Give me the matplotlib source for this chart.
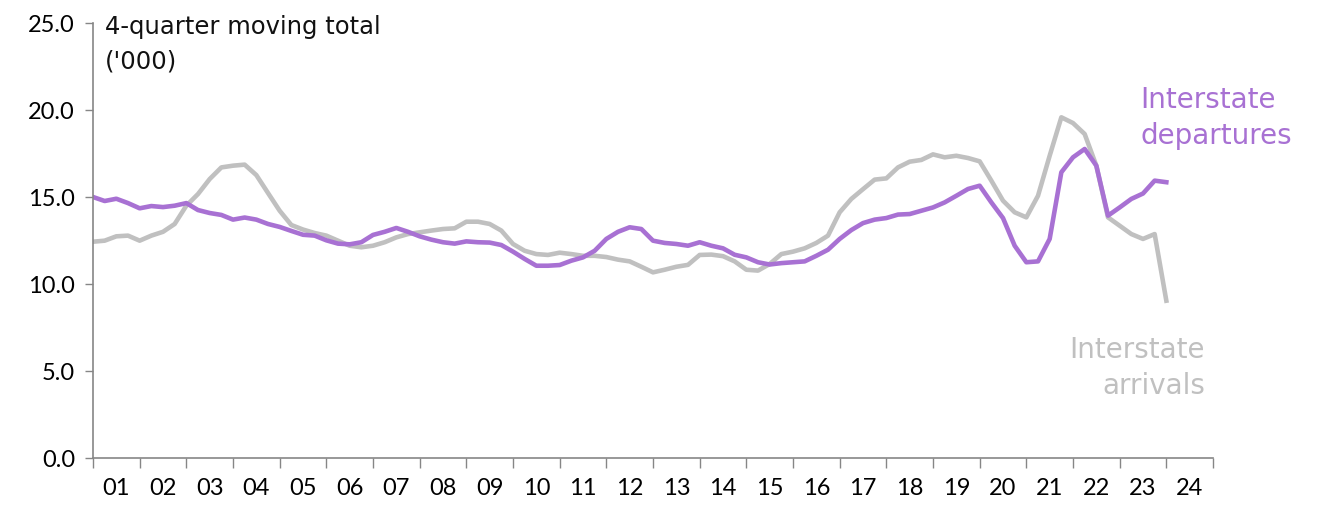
import matplotlib
matplotlib.use("Agg")
import matplotlib.pyplot as plt
import numpy as np

plt.rcParams['font.family'] = ['Lato', 'DejaVu Sans']

year_labels = [f"{y:02d}" for y in range(1, 25)]

departures = [
    15.0, 14.77, 14.9, 14.65, 14.35, 14.48, 14.42, 14.5, 14.65, 14.25,
    14.08, 13.97, 13.7, 13.82, 13.7, 13.45, 13.28, 13.05, 12.83, 12.78,
    12.51, 12.32, 12.28, 12.4, 12.82, 13.0, 13.22, 13.0, 12.74, 12.55,
    12.4, 12.32, 12.45, 12.4, 12.38, 12.24, 11.86, 11.44, 11.05, 11.05,
    11.09, 11.34, 11.53, 11.91, 12.59, 13.0, 13.26, 13.16, 12.49, 12.36,
    12.3, 12.2, 12.4, 12.2, 12.05, 11.68, 11.53, 11.25, 11.12, 11.2,
    11.25, 11.3, 11.62, 11.97, 12.59, 13.1, 13.5, 13.7, 13.79, 13.99,
    14.02, 14.21, 14.4, 14.69, 15.07, 15.46, 15.65, 14.69, 13.79, 12.2,
    11.25, 11.3, 12.59, 16.42, 17.28, 17.76, 16.8, 13.93, 14.4, 14.89,
    15.2, 15.94, 15.85,
]

arrivals = [
    12.43, 12.49, 12.74, 12.78, 12.49, 12.78, 13.0, 13.45, 14.5, 15.17,
    16.03, 16.7, 16.8, 16.86, 16.26, 15.23, 14.21, 13.39, 13.13, 12.93,
    12.78, 12.49, 12.2, 12.11, 12.2, 12.4, 12.68, 12.87, 12.97, 13.07,
    13.16, 13.2, 13.58, 13.58, 13.45, 13.07, 12.3, 11.91, 11.72, 11.67,
    11.8, 11.72, 11.62, 11.62, 11.55, 11.4, 11.3, 10.99, 10.67, 10.82,
    10.99, 11.1, 11.67, 11.69, 11.6, 11.3, 10.82, 10.77, 11.15, 11.72,
    11.86, 12.05, 12.36, 12.78, 14.12, 14.89, 15.45, 16.0, 16.07, 16.7,
    17.03, 17.13, 17.45, 17.28, 17.37, 17.24, 17.05, 15.94, 14.79, 14.12,
    13.83, 15.07, 17.37, 19.58, 19.25, 18.62, 16.8, 13.83, 13.35, 12.87,
    12.59, 12.87, 9.04,
]

purple = '#A871D3'
grey = '#C0C0C0'
axis_col = '#868686'
wide = ['DejaVu Sans']

fig = plt.figure(figsize=(13.31, 5.06), dpi=100)
ax = fig.add_axes([93/1331, 47/506, 1120/1331, 435/506])

q = np.arange(len(departures))
ax.plot(q, arrivals, color=grey, lw=3.3, solid_joinstyle='round')
ax.plot(q, departures, color=purple, lw=3.3, solid_joinstyle='round')

ax.set_xlim(0, 96)
ax.set_ylim(0, 25)
ax.set_yticks(np.arange(0, 25.1, 5))
ax.set_yticklabels([f"{v:.1f}" for v in np.arange(0, 25.1, 5)], fontsize=17)

ax.set_xticks(np.arange(0, 97, 4))
ax.set_xticklabels([])
ax.set_xticks(np.arange(2, 96, 4), minor=True)
ax.set_xticklabels(year_labels, minor=True, fontsize=17)
ax.tick_params(axis='x', which='major', direction='out', length=7, color=axis_col, width=1)
ax.tick_params(axis='x', which='minor', length=0, pad=14)
ax.tick_params(axis='y', direction='out', length=6, color=axis_col, width=1, pad=7)

for s in ['top', 'right']:
    ax.spines[s].set_visible(False)
for s in ['left', 'bottom']:
    ax.spines[s].set_color(axis_col)
    ax.spines[s].set_linewidth(1.2)

fig.text(105/1331, (506-15)/506, "4-quarter moving total\n('000)", family=wide,
         ha='left', va='top', fontsize=17.5, linespacing=1.55, color='#111111')

fig.text(1140/1331, (506-86)/506, "Interstate\ndepartures", family=wide,
         ha='left', va='top', fontsize=20, color=purple, linespacing=1.35)
fig.text(1205/1331, (506-336)/506, "Interstate\narrivals", family=wide,
         ha='right', va='top', fontsize=20, color=grey, linespacing=1.35)

fig.savefig('out.png', dpi=100)
